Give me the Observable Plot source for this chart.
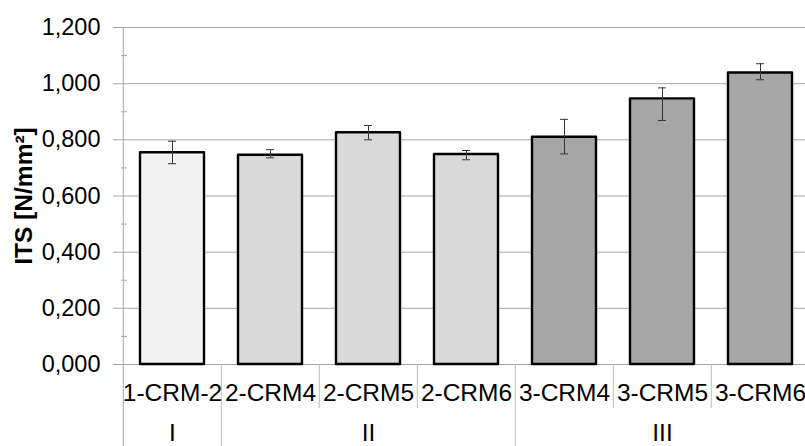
<!DOCTYPE html>
<html>
<head>
<meta charset="utf-8">
<script src="https://cdn.jsdelivr.net/npm/d3@7"></script>
<script src="https://cdn.jsdelivr.net/npm/@observablehq/plot@0.6"></script>
<style>
  html, body { margin: 0; padding: 0; background: #fff; overflow: hidden; }
</style>
</head>
<body>
<div id="chart"></div>
<script>
// ---- data ----
const categories = ["1-CRM-2", "2-CRM4", "2-CRM5", "2-CRM6", "3-CRM4", "3-CRM5", "3-CRM6"];
const groupOf    = ["I", "II", "II", "II", "III", "III", "III"];
const its        = [0.754, 0.745, 0.825, 0.748, 0.809, 0.946, 1.038];
const errLow     = [0.715, 0.736, 0.800, 0.729, 0.750, 0.869, 1.014];
const errHigh    = [0.795, 0.765, 0.851, 0.762, 0.873, 0.985, 1.071];
const groups       = ["I", "II", "III"];
const groupCenters = ["1-CRM-2", "2-CRM5", "3-CRM5"];   // middle category of each group
const groupStarts  = ["1-CRM-2", "2-CRM4", "3-CRM4"];
const innerStarts  = ["2-CRM5", "2-CRM6", "3-CRM5", "3-CRM6"];
const yTicks      = [0, 0.2, 0.4, 0.6, 0.8, 1.0, 1.2];
const yMinorTicks = [0.1, 0.3, 0.5, 0.7, 0.9, 1.1];
const yLabel = "ITS [N/mm²]";

// ---- styles ----
const groupFill = {I: "#f2f2f2", II: "#d9d9d9", III: "#a6a6a6"};
const W = 805, H = 446, ML = 121, MR = 0, MT = 27, MB = 82;
const xRange = [121, 810];
const padInner = 0.35;
const step = (xRange[1] - xRange[0]) / categories.length;
const gridColor = "#a6a6a6";
const sepColor = "#bfbfbf";
const FS = 23.5;
const FSX = 24.5;

const data = categories.map((c, i) => ({cat: c, group: groupOf[i], v: its[i], lo: errLow[i], hi: errHigh[i]}));
const fmt = d => d3.format(",.3f")(d).replace(".", ",");

const chart = Plot.plot({
  width: W, height: H,
  marginLeft: ML, marginRight: MR, marginTop: MT, marginBottom: MB,
  style: {fontFamily: "'Liberation Sans', Arial, sans-serif", fontSize: FS + "px", color: "#000", background: "#fff"},
  x: {domain: categories, range: xRange, paddingInner: padInner, paddingOuter: padInner / 2, axis: null},
  y: {domain: [0, 1.2], axis: null},
  color: {type: "identity"},
  marks: [
    // gridlines
    Plot.ruleY(yTicks, {stroke: gridColor, strokeWidth: 1}),
    // minor ticks inside the axis
    Plot.ruleY(yMinorTicks, {stroke: gridColor, insetRight: W - ML - MR - 6}),
    // y axis with outward major ticks
    Plot.axisY(yTicks, {anchor: "left", tickSize: 8, tickPadding: 13, tickFormat: fmt, stroke: gridColor, fill: "#000", fontSize: FS, label: null}),
    // y axis line (extends through category label area)
    Plot.ruleX(["1-CRM-2"], {dx: -step / 2, stroke: gridColor, insetBottom: -MB}),
    // separators between categories in the label area
    Plot.ruleX(groupStarts.slice(1), {dx: -step / 2, stroke: sepColor, insetTop: H - MT - MB, insetBottom: -MB}),
    Plot.ruleX(innerStarts, {dx: -step / 2, stroke: sepColor, insetTop: H - MT - MB, insetBottom: -44}),
    // bars
    Plot.barY(data, {x: "cat", y: "v", fill: d => groupFill[d.group], stroke: "#000", strokeWidth: 2.4, strokeLinejoin: "round"}),
    // error bars
    Plot.ruleX(data, {x: "cat", y1: "lo", y2: "hi", stroke: "#333", strokeWidth: 1}),
    Plot.tickY(data, {x: "cat", y: "hi", stroke: "#333", strokeWidth: 1, insetLeft: 28, insetRight: 28}),
    Plot.tickY(data, {x: "cat", y: "lo", stroke: "#333", strokeWidth: 1, insetLeft: 28, insetRight: 28}),
    // category labels
    Plot.axisX({anchor: "bottom", tickSize: 0, tickPadding: 19, fontSize: FSX, fill: "#000", label: null}),
    // group labels
    Plot.text(groups.map((g, i) => ({g, c: groupCenters[i]})), {x: "c", text: "g", frameAnchor: "bottom", dy: 76, fontSize: FSX, fill: "#000"}),
    // y label
    Plot.text([yLabel], {text: d => d, frameAnchor: "left", textAnchor: "middle", rotate: -90, dx: -97, fontSize: FSX, fontWeight: "bold", fill: "#000"})
  ]
});
document.getElementById("chart").appendChild(chart);
</script>
</body>
</html>
